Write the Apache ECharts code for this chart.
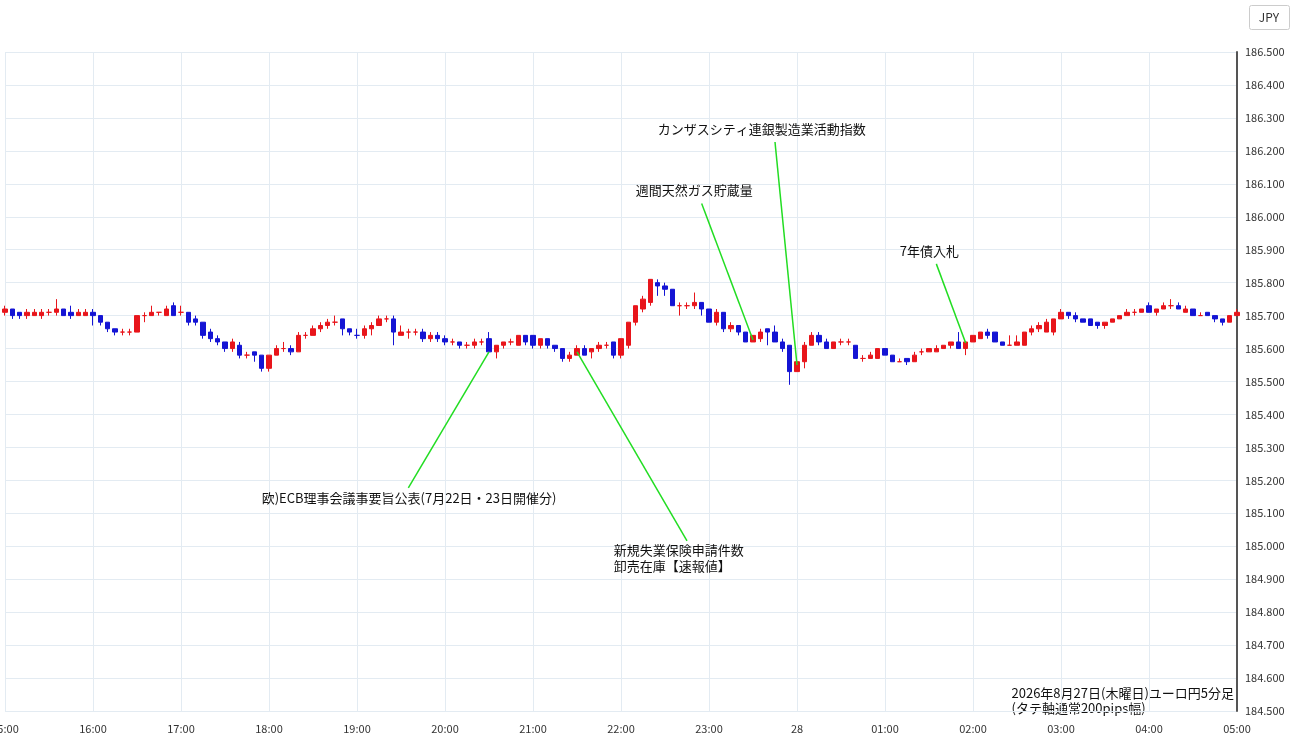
<!DOCTYPE html>
<html><head><meta charset="utf-8">
<script src="https://cdn.jsdelivr.net/npm/echarts@6/dist/echarts.min.js"></script>
<style>html,body{margin:0;background:#fff}#c{width:1300px;height:745px}</style>
</head><body><div id="c"></div>
<script>
// 5-minute candles, 15:00 -> 05:00, [open, close, low, high]
const candles = [
  // 15:00
  [185.71,185.72,185.70,185.73],[185.72,185.70,185.69,185.72],[185.71,185.70,185.69,185.71],[185.70,185.71,185.69,185.72],
  [185.70,185.71,185.70,185.72],[185.70,185.71,185.69,185.72],[185.71,185.71,185.70,185.72],[185.71,185.72,185.70,185.75],
  [185.72,185.70,185.70,185.72],[185.71,185.70,185.69,185.73],[185.70,185.71,185.70,185.72],[185.70,185.71,185.70,185.72],
  // 16:00
  [185.71,185.70,185.67,185.72],[185.70,185.68,185.67,185.70],[185.68,185.66,185.65,185.68],[185.66,185.65,185.64,185.66],
  [185.65,185.65,185.64,185.66],[185.65,185.65,185.64,185.66],[185.65,185.70,185.65,185.70],[185.70,185.70,185.68,185.71],
  [185.70,185.71,185.70,185.73],[185.71,185.71,185.70,185.71],[185.70,185.72,185.70,185.73],[185.73,185.70,185.70,185.74],
  // 17:00
  [185.71,185.71,185.70,185.73],[185.71,185.68,185.67,185.71],[185.69,185.68,185.67,185.70],[185.68,185.64,185.63,185.68],
  [185.65,185.63,185.62,185.66],[185.63,185.62,185.61,185.64],[185.62,185.60,185.59,185.62],[185.60,185.62,185.59,185.63],
  [185.61,185.58,185.57,185.62],[185.58,185.58,185.57,185.59],[185.59,185.58,185.56,185.59],[185.58,185.54,185.53,185.58],
  // 18:00
  [185.54,185.58,185.53,185.58],[185.58,185.60,185.58,185.61],[185.60,185.60,185.59,185.62],[185.60,185.59,185.58,185.61],
  [185.59,185.64,185.59,185.65],[185.64,185.64,185.63,185.65],[185.64,185.66,185.64,185.67],[185.66,185.67,185.65,185.68],
  [185.67,185.68,185.66,185.69],[185.68,185.68,185.67,185.70],[185.69,185.66,185.64,185.69],[185.66,185.65,185.64,185.66],
  // 19:00
  [185.64,185.64,185.63,185.66],[185.64,185.66,185.63,185.67],[185.66,185.67,185.64,185.68],[185.67,185.69,185.67,185.70],
  [185.69,185.69,185.68,185.70],[185.69,185.65,185.61,185.70],[185.64,185.65,185.64,185.67],[185.65,185.65,185.63,185.66],
  [185.65,185.65,185.64,185.66],[185.65,185.63,185.62,185.66],[185.63,185.64,185.62,185.65],[185.64,185.63,185.62,185.65],
  // 20:00
  [185.63,185.62,185.61,185.64],[185.62,185.62,185.61,185.63],[185.62,185.61,185.60,185.62],[185.61,185.61,185.60,185.62],
  [185.61,185.62,185.60,185.63],[185.62,185.62,185.61,185.63],[185.63,185.59,185.59,185.65],[185.59,185.61,185.57,185.61],
  [185.61,185.62,185.60,185.62],[185.62,185.62,185.61,185.63],[185.61,185.64,185.61,185.64],[185.64,185.62,185.61,185.64],
  // 21:00
  [185.64,185.61,185.60,185.64],[185.61,185.63,185.60,185.63],[185.63,185.61,185.60,185.63],[185.61,185.60,185.59,185.61],
  [185.60,185.57,185.56,185.60],[185.57,185.58,185.56,185.59],[185.58,185.60,185.58,185.61],[185.60,185.58,185.58,185.61],
  [185.59,185.60,185.57,185.60],[185.60,185.61,185.59,185.62],[185.61,185.61,185.60,185.62],[185.62,185.58,185.57,185.62],
  // 22:00
  [185.58,185.63,185.57,185.63],[185.61,185.68,185.60,185.68],[185.68,185.73,185.67,185.73],[185.72,185.75,185.71,185.76],
  [185.74,185.81,185.73,185.81],[185.80,185.79,185.76,185.81],[185.79,185.78,185.76,185.80],[185.78,185.73,185.73,185.78],
  [185.73,185.73,185.70,185.74],[185.73,185.73,185.72,185.74],[185.73,185.74,185.72,185.77],[185.74,185.72,185.70,185.74],
  // 23:00
  [185.72,185.68,185.68,185.72],[185.68,185.71,185.67,185.72],[185.71,185.66,185.65,185.71],[185.66,185.67,185.65,185.68],
  [185.67,185.65,185.64,185.67],[185.65,185.62,185.62,185.65],[185.62,185.64,185.62,185.64],[185.63,185.65,185.62,185.66],
  [185.66,185.65,185.61,185.66],[185.65,185.62,185.62,185.67],[185.62,185.60,185.59,185.63],[185.61,185.53,185.49,185.61],
  // 00:00
  [185.53,185.56,185.53,185.56],[185.56,185.61,185.54,185.62],[185.61,185.64,185.61,185.65],[185.64,185.62,185.61,185.65],
  [185.62,185.60,185.60,185.63],[185.60,185.62,185.60,185.62],[185.62,185.62,185.61,185.63],[185.62,185.62,185.61,185.63],
  [185.61,185.57,185.57,185.61],[185.57,185.57,185.56,185.58],[185.57,185.58,185.57,185.59],[185.57,185.60,185.57,185.60],
  // 01:00
  [185.60,185.58,185.58,185.60],[185.58,185.56,185.56,185.58],[185.56,185.56,185.56,185.57],[185.57,185.56,185.55,185.57],
  [185.56,185.58,185.56,185.59],[185.59,185.59,185.58,185.60],[185.59,185.60,185.59,185.60],[185.59,185.60,185.59,185.61],
  [185.60,185.61,185.60,185.61],[185.61,185.62,185.60,185.62],[185.62,185.60,185.60,185.65],[185.60,185.62,185.58,185.62],
  // 02:00
  [185.62,185.64,185.62,185.64],[185.63,185.65,185.63,185.65],[185.65,185.64,185.63,185.66],[185.65,185.62,185.62,185.65],
  [185.62,185.61,185.61,185.62],[185.61,185.61,185.61,185.64],[185.61,185.62,185.61,185.64],[185.61,185.65,185.61,185.65],
  [185.65,185.66,185.64,185.67],[185.66,185.67,185.65,185.68],[185.65,185.68,185.65,185.69],[185.65,185.69,185.64,185.69],
  // 03:00
  [185.69,185.71,185.69,185.72],[185.71,185.70,185.69,185.71],[185.70,185.69,185.68,185.71],[185.69,185.68,185.68,185.69],
  [185.69,185.67,185.67,185.69],[185.68,185.67,185.66,185.68],[185.67,185.68,185.66,185.68],[185.68,185.69,185.68,185.69],
  [185.69,185.70,185.69,185.70],[185.70,185.71,185.70,185.72],[185.71,185.71,185.70,185.72],[185.71,185.72,185.71,185.72],
  // 04:00
  [185.73,185.71,185.71,185.74],[185.71,185.72,185.70,185.72],[185.72,185.73,185.72,185.74],[185.73,185.73,185.72,185.75],
  [185.73,185.72,185.72,185.74],[185.71,185.72,185.71,185.73],[185.72,185.70,185.70,185.72],[185.70,185.70,185.70,185.71],
  [185.71,185.70,185.70,185.71],[185.70,185.69,185.68,185.70],[185.69,185.68,185.67,185.69],[185.68,185.70,185.68,185.70],
  // 05:00
  [185.70,185.71,185.70,185.72]
];
const hourLabels = ['15:00','16:00','17:00','18:00','19:00','20:00','21:00','22:00','23:00','28','01:00','02:00','03:00','04:00','05:00'];
const yTicks = { min: 184.5, max: 186.5, step: 0.1 };

// annotations: text, line start [index, price], candle point [index, price], label anchor
const annoText = ['欧)ECB理事会議事要旨公表(7月22日・23日開催分)', '新規失業保険申請件数\n卸売在庫【速報値】', '週間天然ガス貯蔵量', 'カンザスシティ連銀製造業活動指数', '7年債入札'];
const annoFrom = [[55, 185.177], [92.8, 185.016], [95.1, 186.04], [104.6, 186.227], [126.7, 185.857]];
const annoTo   = [[66, 185.59], [78, 185.59], [101.6, 185.626], [107.8, 185.55], [131.4, 185.617]];
const annoLabelPos = [[35, 185.145], [83.2, 184.963], [86, 186.08], [88.9, 186.267], [122, 185.895]];

const cats = [];
for (let i = 0; i <= 168; i++) cats.push(i % 12 === 0 ? hourLabels[i / 12] : '');

const font = '"Noto Sans CJK JP", "Noto Sans", sans-serif';
const chart = echarts.init(document.getElementById('c'));
chart.setOption({
  animation: false,
  grid: { left: 5, right: 63, top: 52, bottom: 34, outerBoundsMode: 'none', containLabel: false },
  xAxis: {
    type: 'category', data: cats, boundaryGap: false,
    axisLine: { show: false }, axisTick: { show: false },
    axisLabel: { interval: 0, color: '#333', fontSize: 11, fontFamily: font, margin: 12 },
    splitLine: { show: true, interval: (i) => i % 12 === 0, lineStyle: { color: '#e3ebf2' } }
  },
  yAxis: {
    type: 'value', position: 'right', min: yTicks.min, max: yTicks.max, interval: yTicks.step, scale: true,
    axisLine: { show: true, lineStyle: { color: '#555', width: 2 } },
    axisTick: { show: false },
    axisLabel: { color: '#333', fontSize: 11, fontFamily: font, margin: 8, formatter: (v) => v.toFixed(3) },
    splitLine: { lineStyle: { color: '#e3ebf2' } }
  },
  series: [{
    type: 'candlestick', data: candles, barWidth: 5,
    itemStyle: { color: '#e8151b', color0: '#1414d4', borderColor: '#e8151b', borderColor0: '#1414d4', borderWidth: 1 },
    markLine: {
      silent: true, symbol: 'none', animation: false,
      lineStyle: { color: '#22dd22', width: 1.5, type: 'solid' },
      label: { show: false },
      data: annoFrom.map((f, i) => [{ coord: f }, { coord: annoTo[i] }])
    },
    markPoint: {
      silent: true, symbol: 'circle', symbolSize: 0, animation: false,
      label: { show: true, position: 'right', distance: 0, color: '#111', fontSize: 13, fontFamily: font, lineHeight: 16 },
      data: annoText.map((t, i) => ({ coord: annoLabelPos[i], value: t, label: { formatter: t } }))
    }
  }],
  graphic: [
    { type: 'rect', right: 10, top: 5, shape: { width: 40, height: 24, r: 2 }, style: { fill: '#fff', stroke: '#ccc' } },
    { type: 'text', right: 21, top: 11, style: { text: 'JPY', font: '12px ' + font, fill: '#333' } },
    { type: 'text', right: 66, top: 686, style: { text: '2026年8月27日(木曜日)ユーロ円5分足\n(タテ軸通常200pips幅)', font: '13px ' + font, fill: '#111', align: 'right', lineHeight: 15 } }
  ]
});
</script></body></html>
